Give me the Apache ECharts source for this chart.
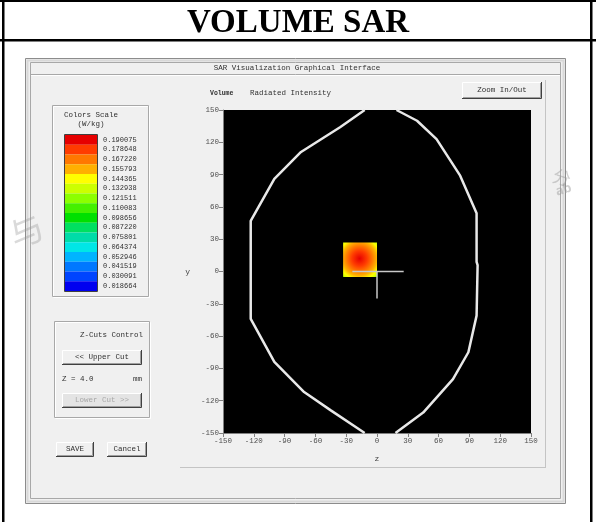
<!DOCTYPE html>
<html>
<head>
<meta charset="utf-8">
<script src="https://cdn.jsdelivr.net/npm/echarts@6/dist/echarts.min.js"></script>
<style>
html, body { margin: 0; padding: 0; background: #fff; }
#main { width: 596px; height: 522px; }
</style>
</head>
<body>
<div id="main"></div>
<script>
// colour scale (W/kg), top to bottom
var scaleLabels = ['0.190075', '0.178648', '0.167220', '0.155793', '0.144365', '0.132938', '0.121511', '0.110083',
    '0.098656', '0.087220', '0.075801', '0.064374', '0.052946', '0.041519', '0.030091', '0.018664'];
var scaleColors = ['#e60000', '#ff3c00', '#ff7800', '#ffb000', '#ffff00', '#ccff00', '#8cff00', '#44f000',
    '#00e000', '#00e060', '#00dca8', '#00e6e6', '#00b4ff', '#0078ff', '#0044ff', '#0000f0'];

// hot spot (mm) and its levels from centre to edge
var spotX = [-33, 0];
var spotY = [-5, 27];
var spotPeak = [-17, 12];
var spotPeakValue = 0.19;
var spotLevels = [0.190, 0.178, 0.167, 0.156, 0.144, 0.133, 0.110];
var spotStops = [0, 0.3, 0.5, 0.67, 0.82, 0.93, 1];

// phantom outline (mm), open at top and bottom of the view
var leftEdge = [[-12, 150], [-36, 134], [-74, 111], [-100, 86], [-123, 47], [-123, -44], [-100, -84],
    [-71, -112], [-45, -129], [-12, -150]];
var rightEdge = [[18, -150], [45, -131], [74, -100], [89, -75], [97, -41], [98, 6], [97, 9], [97, 54],
    [81, 89], [58, 123], [39, 140], [19, 150]];

// cursor cross
var crossH = [[-24, 0], [26, 0]];
var crossV = [[0, 0], [0, -25]];

var guiFont = 'Liberation Mono';

function colorFor(v) {
    var best = 0, d = 1;
    scaleLabels.forEach(function (l, i) {
        var dd = Math.abs(parseFloat(l) - v);
        if (dd < d) { d = dd; best = i; }
    });
    return scaleColors[best];
}

function button(x, y, w, h, label, disabled) {
    return {
        type: 'group', z: -1,
        children: [
            { type: 'rect', shape: { x: x, y: y, width: w, height: h }, style: { fill: disabled ? '#e4e4e4' : '#f0f0f0' } },
            { type: 'polyline', shape: { points: [[x + 0.5, y + h], [x + 0.5, y + 0.5], [x + w, y + 0.5]] }, style: { stroke: '#ffffff', lineWidth: 1 } },
            { type: 'polyline', shape: { points: [[x + 1, y + h - 1.5], [x + w - 1.5, y + h - 1.5], [x + w - 1.5, y + 1]] }, style: { stroke: '#a0a0a0', lineWidth: 1 } },
            { type: 'polyline', shape: { points: [[x, y + h - 0.5], [x + w - 0.5, y + h - 0.5], [x + w - 0.5, y]] }, style: { stroke: '#404040', lineWidth: 1 } },
            { type: 'text', x: x + w / 2, y: y + h / 2, style: { text: label, fontFamily: guiFont, fontSize: 7.5, fill: disabled ? '#a8a8a8' : '#303030', align: 'center', verticalAlign: 'middle' } }
        ]
    };
}

function etched(x, y, w, h) {
    return {
        type: 'group', z: -1,
        children: [
            { type: 'rect', shape: { x: x + 0.5, y: y + 0.5, width: w, height: h }, style: { fill: 'none', stroke: '#ffffff', lineWidth: 1 } },
            { type: 'rect', shape: { x: x - 0.5, y: y - 0.5, width: w, height: h }, style: { fill: 'none', stroke: '#a8a8a8', lineWidth: 1 } }
        ]
    };
}

function guiText(x, y, s, opt) {
    opt = opt || {};
    return {
        type: 'text', z: -1, x: x, y: y,
        style: {
            text: s, fontFamily: guiFont, fontSize: opt.size || 7.5, fontWeight: opt.bold ? 'bold' : 'normal',
            fill: opt.color || '#303030', align: opt.align || 'left', verticalAlign: 'middle'
        }
    };
}

var pieces = scaleLabels.map(function (l, i) {
    var v = parseFloat(l);
    return { min: v - 0.0057, max: v + 0.0057, label: l, color: scaleColors[i] };
});

var axisCommon = {
    type: 'value',
    min: -150,
    max: 150,
    interval: 30,
    nameLocation: 'middle',
    nameTextStyle: { fontFamily: guiFont, fontSize: 8, color: '#404040' },
    axisLine: { onZero: false, lineStyle: { color: '#808080', width: 1 } },
    axisTick: { show: true, length: 4, lineStyle: { color: '#808080' } },
    axisLabel: { fontFamily: guiFont, fontSize: 7.5, color: '#505050', margin: 4 },
    splitLine: { show: false }
};

var chart = echarts.init(document.getElementById('main'));

chart.setOption({
    animation: false,
    backgroundColor: '#ffffff',
    title: {
        text: 'VOLUME SAR',
        left: 'center',
        top: 2,
        textStyle: { fontFamily: 'Liberation Serif', fontWeight: 'bold', fontSize: 33, color: '#000' }
    },
    grid: {
        left: 223, top: 110, width: 308, height: 323,
        show: true, backgroundColor: '#000000', borderWidth: 0
    },
    xAxis: Object.assign({}, axisCommon, { name: 'z', nameGap: 22 }),
    yAxis: Object.assign({}, axisCommon, { name: 'y', nameGap: 33, nameRotate: 0 }),
    visualMap: {
        type: 'piecewise',
        seriesIndex: 0,
        dimension: 4,
        pieces: pieces,
        left: 65,
        top: 135,
        padding: 0,
        itemWidth: 32,
        itemHeight: 9.75,
        itemGap: 0,
        itemSymbol: 'rect',
        textGap: 6,
        selectedMode: false,
        hoverLink: false,
        textStyle: { fontFamily: guiFont, fontSize: 7, color: '#303030' }
    },
    graphic: [
        // page table lines
        { type: 'rect', z: 10, shape: { x: 0, y: 0, width: 596, height: 2 }, style: { fill: '#000' } },
        { type: 'rect', z: 10, shape: { x: 0, y: 39, width: 596, height: 2.5 }, style: { fill: '#000' } },
        { type: 'rect', z: 10, shape: { x: 2, y: 0, width: 2.5, height: 522 }, style: { fill: '#000' } },
        { type: 'rect', z: 10, shape: { x: 590, y: 0, width: 2.5, height: 522 }, style: { fill: '#000' } },

        // window
        { type: 'rect', z: -3, shape: { x: 25.5, y: 58.5, width: 540, height: 445 }, style: { fill: '#f0f0f0', stroke: '#8c8c8c', lineWidth: 1 } },
        { type: 'rect', z: -3, shape: { x: 27.5, y: 60.5, width: 536, height: 441 }, style: { fill: 'none', stroke: '#d8d8d8', lineWidth: 2 } },
        { type: 'rect', z: -3, shape: { x: 30.5, y: 62.5, width: 530, height: 436 }, style: { fill: 'none', stroke: '#a8a8a8', lineWidth: 1 } },
        { type: 'line', z: -2, shape: { x1: 31, y1: 74.5, x2: 560, y2: 74.5 }, style: { stroke: '#a8a8a8', lineWidth: 1 } },
        { type: 'line', z: -2, shape: { x1: 31, y1: 75.5, x2: 560, y2: 75.5 }, style: { stroke: '#ffffff', lineWidth: 1 } },
        guiText(297, 68.5, 'SAR Visualization Graphical Interface', { align: 'center' }),

        // plot panel edge
        { type: 'line', z: -2, shape: { x1: 545.5, y1: 80, x2: 545.5, y2: 467 }, style: { stroke: '#c4c4c4', lineWidth: 1 } },
        { type: 'line', z: -2, shape: { x1: 180, y1: 467.5, x2: 546, y2: 467.5 }, style: { stroke: '#c4c4c4', lineWidth: 1 } },

        // colour scale box
        etched(53, 106, 96, 191),
        guiText(91, 115, 'Colors Scale', { align: 'center' }),
        guiText(91, 124.5, '(W/kg)', { align: 'center' }),
        { type: 'rect', z: 5, shape: { x: 64.5, y: 134.5, width: 33, height: 157 }, style: { fill: 'none', stroke: '#404040', lineWidth: 1 } },

        // Z-cuts box
        etched(55, 322, 95, 96),
        guiText(143, 335, 'Z-Cuts Control', { align: 'right' }),
        button(62, 350, 80, 15, '<< Upper Cut'),
        guiText(62, 379, 'Z = 4.0'),
        guiText(133, 379, 'mm'),
        button(62, 393, 80, 15, 'Lower Cut >>', true),

        button(56, 442, 38, 15, 'SAVE'),
        button(107, 442, 40, 15, 'Cancel'),

        // plot header
        guiText(210, 93, 'Volume', { bold: true, size: 6.5 }),
        guiText(250, 93, 'Radiated Intensity'),
        button(462, 82, 80, 17, 'Zoom In/Out'),

        // faint watermark
        { type: 'text', z: 20, x: 556, y: 166, rotation: -0.3, style: { text: '分', fontFamily: 'Noto Sans CJK SC', fontSize: 18, fill: 'rgba(150,150,150,0.45)' } },
        { type: 'text', z: 20, x: 554, y: 186, rotation: 0.3, style: { text: 'ab', fontFamily: 'Noto Sans', fontWeight: 'bold', fontSize: 13, fill: 'rgba(150,150,150,0.45)' } },
        { type: 'text', z: 20, x: 4, y: 222, rotation: 0.4, style: { text: '与', fontFamily: 'Noto Sans CJK SC', fontSize: 34, fill: 'rgba(150,150,150,0.35)' } }
    ],
    series: [
        {
            type: 'custom',
            name: 'hot spot',
            silent: true,
            clip: true,
            encode: { x: [0, 1], y: [2, 3] },
            data: [[spotX[0], spotX[1], spotY[0], spotY[1], spotPeakValue, spotPeak[0], spotPeak[1]]],
            renderItem: function (params, api) {
                var p0 = api.coord([api.value(0), api.value(3)]);
                var p1 = api.coord([api.value(1), api.value(2)]);
                var pk = api.coord([api.value(5), api.value(6)]);
                var w = p1[0] - p0[0], h = p1[1] - p0[1];
                var stops = spotLevels.map(function (v, i) {
                    return { offset: spotStops[i], color: colorFor(v) };
                });
                return {
                    type: 'rect',
                    shape: { x: p0[0], y: p0[1], width: w, height: h },
                    style: { fill: new echarts.graphic.RadialGradient((pk[0] - p0[0]) / w, (pk[1] - p0[1]) / h, 0.75, stops) }
                };
            }
        },
        {
            type: 'line', name: 'outline left', data: leftEdge, symbol: 'none', silent: true,
            lineStyle: { color: '#e8e8e8', width: 2.5 }
        },
        {
            type: 'line', name: 'outline right', data: rightEdge, symbol: 'none', silent: true,
            lineStyle: { color: '#e8e8e8', width: 2.5 }
        },
        {
            type: 'line', name: 'cursor h', data: crossH, symbol: 'none', silent: true,
            lineStyle: { color: '#c8c8c8', width: 1.5 }
        },
        {
            type: 'line', name: 'cursor v', data: crossV, symbol: 'none', silent: true,
            lineStyle: { color: '#c8c8c8', width: 1.5 }
        }
    ]
});
</script>
</body>
</html>
